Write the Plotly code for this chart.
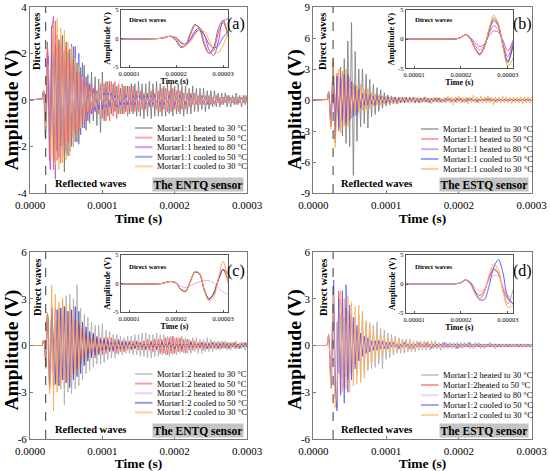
import plotly.graph_objects as go

FONT = "Liberation Serif"

# ---------------- time grid (microseconds) ----------------
t_us = [0, 17, 18, 19, 20, 21, 22, 23, 24, 25, 26, 27, 28, 29, 30,
        32.5, 35, 37.5, 40, 42.5, 45, 47.5, 50, 52.5, 55,
        57.5, 60, 62.5, 65, 67.5, 70, 72.5, 75, 77.5, 80,
        82.5, 85, 87.5, 90, 92.5, 95, 97.5, 100, 102.5, 105,
        107.5, 110, 112.5, 115, 117.5, 120, 122.5, 125, 127.5, 130,
        132.5, 135, 137.5, 140, 142.5, 145, 147.5, 150, 152.5, 155,
        157.5, 160, 162.5, 165, 167.5, 170, 172.5, 175, 177.5, 180,
        182.5, 185, 187.5, 190, 192.5, 195, 197.5, 200, 202.5, 205,
        207.5, 210, 212.5, 215, 217.5, 220, 222.5, 225, 227.5, 230,
        232.5, 235, 237.5, 240, 242.5, 245, 247.5, 250, 252.5, 255,
        257.5, 260, 262.5, 265, 267.5, 270, 272.5, 275, 277.5, 280,
        282.5, 285, 287.5, 290, 292.5, 295, 297.5, 300]

# ---------------- (a) ENTQ sensor, Mortar 1:1 ----------------
a_h30 = [0, 0.05, 0.35, 0.3, -0.4, -1.6, -1.2, 0.9, 2.5, 1.6, -1.2, -2.6, -1.5, 1.8, 3.2,
         -2.6, 2.4, -2.2, 2.6, -2.0, 2.8, -3.1, 2.5, -2.4, 2.2,
         -2.0, 2.3, -1.8, 1.6, -1.9, 1.4, -1.2, 1.5, -1.3, 1.1,
         -1.0, 1.2, -0.9, 1.0, -1.1, 0.9, -1.4, 1.2, -0.9, 0.8,
         -0.7, 0.8, -0.6, 0.7, -0.5, 0.6, -0.6, 0.5, -0.6, 0.6,
         -0.5, 0.6, -0.6, 0.7, -0.6, 0.7, -0.7, 0.8, -0.7, 0.7,
         -0.8, 0.7, -0.7, 0.8, -0.8, 0.7, -0.7, 0.8, -0.7, 0.7,
         -0.7, 0.6, -0.7, 0.7, -0.6, 0.7, -0.7, 0.6, -0.6, 0.7,
         -0.6, 0.6, -0.7, 0.6, -0.6, 0.5, -0.6, 0.6, -0.5, 0.5,
         -0.5, 0.5, -0.4, 0.5, -0.5, 0.4, -0.4, 0.4, -0.3, 0.4,
         -0.3, 0.3, -0.3, 0.3, -0.2, 0.3, -0.3, 0.2, -0.3, 0.2,
         -0.2, 0.3, -0.2, 0.2, -0.3, 0.2, -0.2, 0.2]
a_h50 = [0, 0.05, 0.3, 0.35, -0.2, -1.3, -1.3, 0.5, 2.3, 1.9, -0.7, -2.6, -2.0, 1.0, 2.8,
         -3.0, 3.4, -2.6, 2.4, -2.7, 2.2, -2.0, 2.3, -1.8, 1.6,
         -1.5, 1.7, -1.4, 1.2, -1.3, 1.0, -0.9, 0.8, -0.9, 0.7,
         -0.6, 0.7, -0.6, 0.5, 0.0, -0.6, 0.7, -0.8, 0.7, -0.9,
         0.8, -0.9, 0.8, -0.7, 0.8, -0.8, 0.7, -0.6, 0.7, -0.6,
         0.6, -0.7, 0.6, -0.5, 0.6, -0.5, 0.4, -0.5, 0.4, -0.4,
         0.3, -0.4, 0.3, -0.3, 0.4, -0.3, 0.3, -0.4, 0.4, -0.5,
         0.5, -0.4, 0.5, -0.5, 0.4, -0.5, 0.5, -0.4, 0.4, -0.5,
         0.4, -0.4, 0.3, -0.4, 0.3, -0.3, 0.3, -0.2, 0.3, -0.2,
         0.2, -0.2, 0.1, -0.2, 0.2, -0.1, 0.2, -0.2, 0.1, -0.2,
         0.2, -0.1, 0.1, -0.2, 0.1, -0.1, 0.2, -0.1, 0.1, -0.1,
         0.1, -0.2, 0.1, -0.1, 0.1, -0.1, 0.2, -0.1]
a_h80 = [0, 0.05, 0.3, 0.4, 0.1, -0.8, -1.0, -0.1, 1.3, 1.9, 0.6, -2.0, -3.0, -0.5, 3.0,
         3.6, -3.4, 2.8, -2.5, 2.7, -2.3, 2.0, -2.2, 2.1, -1.8,
         1.9, -1.6, 1.4, -1.5, 1.2, -1.0, 1.1, -0.8, 0.6, -0.5,
         0.4, -0.4, 0.3, -0.4, 0.3, -0.3, 0.3, -0.2, 0.3, -0.2,
         0.2, -0.3, 0.2, -0.2, 0.2, -0.2, 0.2, -0.2, 0.2, -0.1,
         0.2, -0.2, 0.1, -0.2, 0.2, -0.1, 0.2, -0.2, 0.1, -0.1,
         0.1, -0.2, 0.1, -0.1, 0.2, -0.1, 0.1, -0.1, 0.1, -0.1,
         0.1, -0.1, 0.1, -0.1, 0.1, -0.1, 0.1, -0.1, 0.1, -0.1,
         0.1, -0.1, 0.1, -0.1, 0.1, -0.1, 0.1, -0.1, 0.1, -0.1,
         0.1, -0.1, 0.1, -0.1, 0.1, -0.1, 0.1, -0.1, 0.1, -0.1,
         0.1, -0.1, 0.1, -0.1, 0.1, -0.1, 0.1, -0.1, 0.1, -0.1,
         0.1, -0.1, 0.1, -0.1, 0.1, -0.1, 0.1, -0.1]
a_c50 = [0, 0.05, 0.3, 0.4, 0.1, -0.7, -1.0, -0.3, 1.0, 1.5, 0.6, -1.0, -1.7, -1.2, 0.2,
         2.0, -2.7, 2.2, -2.4, 2.3, -2.5, 2.1, -2.3, 2.0, -2.2,
         2.4, -2.0, 2.3, -1.8, 2.0, -1.5, 1.6, -1.2, 1.0, -0.9,
         0.7, -0.6, 0.5, -0.5, 0.4, -0.4, 0.3, -0.4, 0.3, -0.3,
         0.3, -0.2, 0.3, -0.2, 0.2, -0.3, 0.2, -0.2, 0.2, -0.2,
         0.2, -0.2, 0.2, -0.1, 0.2, -0.2, 0.1, -0.2, 0.2, -0.1,
         0.2, -0.1, 0.2, -0.2, 0.1, -0.2, 0.2, -0.1, 0.1, -0.2,
         0.1, -0.2, 0.1, -0.1, 0.2, -0.1, 0.1, -0.2, 0.1, -0.1,
         0.2, -0.1, 0.1, -0.2, 0.1, -0.1, 0.2, -0.1, 0.1, -0.1,
         0.1, -0.1, 0.2, -0.1, 0.1, -0.2, 0.1, -0.1, 0.1, -0.1,
         0.1, -0.1, 0.1, -0.1, 0.1, -0.1, 0.1, -0.1, 0.1, -0.1,
         0.1, -0.1, 0.1, -0.1, 0.1, -0.1, 0.1, -0.1]
a_c30 = [0, 0.05, 0.3, 0.4, 0.2, -0.5, -1.1, -0.6, 0.6, 1.5, 1.3, -0.3, -1.9, -2.5, -1.2,
         3.3, -2.8, 3.5, -3.0, 3.1, -2.7, 3.0, -2.6, 2.5, -2.4,
         2.3, -2.0, 1.8, -1.6, 1.5, -1.2, 1.0, -0.8, 0.6, -0.5,
         0.4, -0.4, 0.3, -0.3, 0.3, -0.2, 0.3, -0.2, 0.2, -0.2,
         0.2, -0.1, 0.2, -0.2, 0.1, -0.2, 0.2, -0.1, 0.2, -0.1,
         0.1, -0.1, 0.2, -0.1, 0.1, -0.1, 0.1, -0.2, 0.1, -0.1,
         0.1, -0.1, 0.1, -0.1, 0.1, -0.1, 0.1, -0.1, 0.1, -0.1,
         0.1, -0.1, 0.1, -0.1, 0.1, -0.1, 0.1, -0.1, 0.1, -0.1,
         0.1, -0.1, 0.1, -0.1, 0.1, -0.1, 0.1, -0.1, 0.1, -0.1,
         0.1, -0.1, 0.1, -0.1, 0.1, -0.1, 0.1, -0.1, 0.1, -0.1,
         0.1, -0.1, 0.1, -0.1, 0.1, -0.1, 0.1, -0.1, 0.1, -0.1,
         0.1, -0.1, 0.1, -0.1, 0.1, -0.1, 0.1, -0.1]

# ---------------- (b) ESTQ sensor, Mortar 1:1 ----------------
b_h30 = [0, 0, 0, 0.05, 0.3, 0.8, 0.05, -1.6, -2.5, -1.3, 1.6, 3.6, 2.4, -1.3, -4.1,
         2.2, -3.0, 3.2, -3.5, 4.0, -4.2, 5.7, -4.5, 7.5, -7.3,
         4.7, -4.0, 3.0, -2.6, 3.0, -2.3, 2.5, -2.7, 2.0, -1.6,
         1.5, -1.4, 1.2, -1.1, 1.0, -0.8, 0.7, -0.6, 0.5, -0.5,
         0.4, -0.4, 0.3, -0.4, 0.3, -0.3, 0.3, -0.3, 0.3, -0.2,
         0.3, -0.2, 0.3, -0.3, 0.2, -0.3, 0.2, -0.2, 0.3, -0.2,
         0.2, -0.3, 0.2, -0.2, 0.2, -0.2, 0.2, -0.2, 0.1, -0.2,
         0.2, -0.1, 0.2, -0.2, 0.1, -0.2, 0.2, -0.1, 0.2, -0.1,
         0.1, -0.2, 0.1, -0.1, 0.2, -0.1, 0.1, -0.2, 0.1, -0.1,
         0.1, -0.1, 0.2, -0.1, 0.1, -0.1, 0.1, -0.2, 0.1, -0.1,
         0.1, -0.1, 0.1, -0.1, 0.1, -0.1, 0.1, -0.1, 0.1, -0.1,
         0.1, -0.1, 0.1, -0.1, 0.1, -0.1, 0.1, -0.1]
b_h50 = [0, 0, 0, 0.05, 0.3, 0.8, 0.15, -1.1, -1.9, -1.0, 1.0, 2.3, 1.6, -0.9, -3.0,
         2.6, -2.8, 2.4, -2.2, 2.0, -2.3, 1.8, -1.5, 1.3, -1.2,
         1.0, -0.9, 0.8, -0.7, 0.6, -0.5, 0.5, -0.4, 0.4, -0.3,
         0.3, -0.3, 0.3, -0.2, 0.3, -0.2, 0.2, -0.2, 0.2, -0.2,
         0.2, -0.1, 0.2, -0.2, 0.1, -0.2, 0.2, -0.1, 0.2, -0.1,
         0.1, -0.2, 0.1, -0.1, 0.2, -0.1, 0.1, -0.1, 0.1, -0.1,
         0.1, -0.1, 0.1, -0.1, 0.1, -0.1, 0.1, -0.1, 0.1, -0.1,
         0.1, -0.1, 0.1, -0.1, 0.1, -0.1, 0.1, -0.1, 0.1, -0.1,
         0.1, -0.1, 0.1, -0.1, 0.1, -0.1, 0.1, -0.1, 0.1, -0.1,
         0.1, -0.1, 0.1, -0.1, 0.1, -0.1, 0.1, -0.1, 0.1, -0.1,
         0.1, -0.1, 0.1, -0.1, 0.1, -0.1, 0.1, -0.1, 0.1, -0.1,
         0.1, -0.1, 0.1, -0.1, 0.1, -0.1, 0.1, -0.1]
b_h80 = [0, 0, 0, 0.05, 0.3, 0.8, 0.3, -0.6, -1.3, -0.8, 0.6, 1.4, 1.2, -0.3, -2.0,
         1.8, -2.0, 1.9, -1.6, 1.5, -1.8, 1.3, -1.0, 0.9, -0.8,
         0.7, -0.6, 0.5, -0.4, 0.4, -0.3, 0.3, -0.3, 0.2, -0.2,
         0.2, -0.2, 0.2, -0.1, 0.2, -0.1, 0.1, -0.1, 0.1, -0.1,
         0.1, -0.1, 0.1, -0.1, 0.1, -0.1, 0.1, -0.1, 0.1, -0.1,
         0.1, -0.1, 0.1, -0.1, 0.1, -0.1, 0.1, -0.1, 0.1, -0.1,
         0.1, -0.1, 0.1, -0.1, 0.1, -0.1, 0.1, -0.1, 0.1, -0.1,
         0.1, -0.1, 0.1, -0.1, 0.1, -0.1, 0.1, -0.1, 0.1, -0.1,
         0.1, -0.1, 0.1, -0.1, 0.1, -0.1, 0.1, -0.1, 0.1, -0.1,
         0.1, -0.1, 0.1, -0.1, 0.1, -0.1, 0.1, -0.1, 0.1, -0.1,
         0.1, -0.1, 0.1, -0.1, 0.1, -0.1, 0.1, -0.1, 0.1, -0.1,
         0.1, -0.1, 0.1, -0.1, 0.1, -0.1, 0.1, -0.1]
b_c50 = [0, 0, 0, 0.05, 0.3, 0.8, 0.05, -1.6, -2.6, -1.4, 1.4, 3.2, 2.2, -1.2, -3.8,
         2.3, -2.6, 2.2, -2.0, 2.5, -2.2, 2.5, -2.0, 1.8, -1.6,
         1.4, -1.5, 1.0, -0.8, 0.6, -0.5, 0.6, -0.5, 0.5, -0.4,
         0.4, -0.5, 0.4, -0.3, 0.4, -0.3, 0.3, -0.3, 0.3, -0.2,
         0.2, -0.2, 0.3, -0.2, 0.2, -0.2, 0.2, -0.2, 0.2, -0.2,
         0.2, -0.1, 0.2, -0.2, 0.1, -0.2, 0.2, -0.1, 0.2, -0.2,
         0.1, -0.2, 0.1, -0.1, 0.2, -0.1, 0.2, -0.2, 0.1, -0.1,
         0.2, -0.1, 0.1, -0.2, 0.1, -0.1, 0.2, -0.1, 0.1, -0.2,
         0.1, -0.1, 0.2, -0.1, 0.1, -0.1, 0.1, -0.2, 0.1, -0.1,
         0.1, -0.1, 0.1, -0.1, 0.2, -0.1, 0.1, -0.1, 0.1, -0.1,
         0.1, -0.1, 0.1, -0.1, 0.1, -0.1, 0.1, -0.1, 0.1, -0.1,
         0.1, -0.1, 0.1, -0.1, 0.1, -0.1, 0.1, -0.1]
b_c30 = [0, 0, 0, 0.05, 0.3, 0.8, 0.0, -1.7, -2.8, -1.5, 1.8, 4.1, 2.6, -1.5, -4.6,
         -1.0, 3.0, -3.2, 2.8, -2.5, 3.0, -2.6, 2.2, -1.8, 1.6,
         -1.5, 1.4, -1.2, 1.5, -1.0, 1.0, -0.9, 1.1, -0.8, 0.7,
         -0.6, 0.6, -0.5, 0.5, -0.5, 0.4, -0.4, 0.4, -0.3, 0.3,
         -0.3, 0.3, -0.3, 0.2, -0.3, 0.3, -0.2, 0.3, -0.3, 0.2,
         -0.3, 0.2, -0.3, 0.3, -0.2, 0.3, -0.3, 0.2, -0.2, 0.3,
         -0.3, 0.2, -0.4, 0.3, -0.2, 0.3, -0.3, 0.2, -0.3, 0.3,
         -0.3, 0.4, -0.3, 0.3, -0.5, 0.3, -0.3, 0.4, -0.3, 0.3,
         -0.3, 0.3, -0.4, 0.3, -0.3, 0.5, -0.3, 0.3, -0.3, 0.4,
         -0.3, 0.3, -0.3, 0.4, -0.3, 0.3, -0.5, 0.3, -0.3, 0.3,
         -0.3, 0.4, -0.3, 0.3, -0.3, 0.3, -0.4, 0.3, -0.3, 0.3,
         -0.3, 0.3, -0.4, 0.3, -0.3, 0.3, -0.3, 0.3]

# ---------------- (c) ENTQ sensor, Mortar 1:2 ----------------
c_h30 = [0, 0, 0.25, 0.35, 0.1, -1.1, -1.3, 0.4, 2.1, 1.6, -1.3, -2.8, -1.6, 0.8, 2.4,
         -2.0, 1.8, -2.2, 2.5, -2.8, 3.0, -3.8, 3.2, -3.0, 3.3,
         -3.1, 3.0, -2.8, 3.9, -2.6, 2.4, -2.2, 2.0, -1.8, 1.8,
         -1.6, 1.5, -1.4, 1.3, -1.2, 1.3, -1.2, 1.4, -1.1, 1.0,
         -0.9, 0.9, -0.8, 0.7, -0.8, 0.7, -0.6, 0.6, -0.6, 0.5,
         -0.5, 0.6, -0.5, 0.6, -0.6, 0.7, -0.6, 0.7, -0.7, 0.8,
         -0.7, 0.8, -0.8, 0.7, -0.8, 0.7, -0.7, 0.8, -0.7, 0.7,
         -0.6, 0.7, -0.6, 0.6, -0.7, 0.6, -0.6, 0.5, -0.6, 0.5,
         -0.5, 0.6, -0.5, 0.5, -0.5, 0.4, -0.5, 0.5, -0.4, 0.5,
         -0.5, 0.4, -0.5, 0.4, -0.4, 0.5, -0.4, 0.4, -0.4, 0.3,
         -0.3, 0.3, -0.3, 0.3, -0.2, 0.3, -0.3, 0.2, -0.3, 0.2,
         -0.2, 0.3, -0.2, 0.2, -0.2, 0.2, -0.3, 0.2]
c_h50 = [0, 0, 0.25, 0.35, 0.05, -1.1, -1.4, 0.3, 2.1, 1.7, -1.2, -2.8, -1.7, 0.7, 2.5,
         -2.6, 2.4, -2.5, 2.2, -2.4, 2.5, -2.2, 2.3, -2.0, 2.1,
         0.0, -1.8, 1.6, -1.5, 1.4, -1.2, 1.1, -1.0, 0.9, -0.8,
         0.8, -0.7, 0.7, -0.8, 0.6, -0.6, 0.5, -0.6, 0.5, -0.5,
         0.5, -0.4, 0.5, -0.4, 0.4, -0.5, 0.4, -0.4, 0.3, -0.4,
         0.3, -0.3, 0.3, -0.3, 0.3, -0.2, 0.3, -0.3, 0.2, -0.3,
         0.3, -0.3, 0.4, -0.3, 0.3, -0.4, 0.4, -0.3, 0.4, -0.5,
         0.4, -0.5, 0.5, -0.6, 0.5, -0.5, 0.6, -0.5, 0.5, -0.4,
         0.5, -0.4, 0.4, -0.5, 0.4, -0.3, 0.3, -0.3, 0.3, -0.2,
         0.2, -0.2, 0.2, -0.3, 0.2, -0.2, 0.2, -0.2, 0.2, -0.2,
         0.2, -0.1, 0.2, -0.2, 0.1, -0.2, 0.2, -0.1, 0.2, -0.1,
         0.1, -0.2, 0.1, -0.1, 0.2, -0.1, 0.1, -0.1]
c_h80 = [0, 0, 0.25, 0.35, 0.2, -0.5, -0.7, -0.4, 0.0, 0.3, 0.5, 0.5, 0.1, -0.8, -1.5,
         -2.0, 2.2, -2.5, 2.3, -2.4, 2.6, -2.2, 2.4, -2.3, 2.0,
         -1.8, 1.6, -1.4, 1.2, -1.0, 0.9, -0.8, 0.7, -0.5, 0.4,
         -0.4, 0.3, -0.3, 0.3, -0.3, 0.2, -0.2, 0.2, -0.2, 0.2,
         -0.1, 0.2, -0.1, 0.1, -0.2, 0.1, -0.1, 0.1, -0.1, 0.1,
         -0.1, 0.1, -0.1, 0.1, -0.1, 0.1, -0.1, 0.1, -0.1, 0.1,
         -0.1, 0.1, -0.1, 0.1, -0.1, 0.1, -0.1, 0.1, -0.1, 0.1,
         -0.1, 0.1, -0.1, 0.1, -0.1, 0.1, -0.1, 0.1, -0.1, 0.1,
         -0.1, 0.1, -0.1, 0.1, -0.1, 0.1, -0.1, 0.1, -0.1, 0.1,
         -0.1, 0.1, -0.1, 0.1, -0.1, 0.1, -0.1, 0.1, -0.1, 0.1,
         -0.1, 0.1, -0.1, 0.1, -0.1, 0.1, -0.1, 0.1, -0.1, 0.1,
         -0.1, 0.1, -0.1, 0.1, -0.1, 0.1, -0.1, 0.1]
c_c50 = [0, 0, 0.25, 0.35, 0.1, -1.0, -1.4, 0.3, 2.0, 1.7, -1.1, -2.7, -1.8, 0.6, 2.4,
         0.3, -2.5, 2.3, -2.6, 2.4, -2.2, 2.5, -2.4, 2.2, -2.7,
         2.3, -2.2, 2.5, -2.0, 2.2, -1.8, 1.5, -1.3, 1.2, -1.0,
         0.9, -0.8, 0.8, -0.6, 0.5, -0.5, 0.4, -0.3, 0.4, -0.3,
         0.3, -0.3, 0.2, -0.3, 0.2, -0.2, 0.3, -0.2, 0.2, -0.2,
         0.2, -0.1, 0.2, -0.2, 0.1, -0.2, 0.2, -0.1, 0.2, -0.1,
         0.1, -0.2, 0.1, -0.1, 0.2, -0.1, 0.1, -0.2, 0.1, -0.1,
         0.2, -0.1, 0.1, -0.1, 0.2, -0.1, 0.1, -0.2, 0.1, -0.1,
         0.1, -0.2, 0.1, -0.1, 0.1, -0.1, 0.2, -0.1, 0.1, -0.1,
         0.1, -0.1, 0.2, -0.1, 0.1, -0.2, 0.1, -0.1, 0.2, -0.1,
         0.1, -0.2, 0.1, -0.1, 0.2, -0.1, 0.1, -0.2, 0.1, -0.1,
         0.2, -0.1, 0.1, -0.2, 0.1, -0.1, 0.2, -0.1]
c_c30 = [0, 0, 0.25, 0.35, 0.1, -1.1, -1.5, 0.3, 2.1, 1.8, -1.2, -3.1, -2.4, 0.9, 3.9,
         -4.2, 3.3, -3.0, 2.8, -2.5, 3.0, -2.7, 2.5, -2.3, 2.6,
         -2.2, 2.0, -1.8, 1.6, -1.5, 1.2, -1.0, 0.8, -0.7, 0.6,
         -0.5, 0.4, -0.4, 0.4, -0.3, 0.3, -0.3, 0.3, -0.2, 0.2,
         -0.2, 0.1, -0.2, 0.2, -0.1, 0.2, -0.2, 0.1, -0.2, 0.1,
         -0.1, 0.1, -0.2, 0.1, -0.1, 0.1, -0.1, 0.2, -0.1, 0.1,
         -0.1, 0.1, -0.1, 0.1, -0.1, 0.1, -0.1, 0.1, -0.1, 0.1,
         -0.1, 0.1, -0.1, 0.1, -0.1, 0.1, -0.1, 0.1, -0.1, 0.1,
         -0.1, 0.1, -0.1, 0.1, -0.1, 0.1, -0.1, 0.1, -0.1, 0.1,
         -0.1, 0.1, -0.1, 0.1, -0.1, 0.1, -0.1, 0.1, -0.1, 0.1,
         -0.1, 0.1, -0.1, 0.1, -0.1, 0.1, -0.1, 0.1, -0.1, 0.1,
         -0.1, 0.1, -0.1, 0.1, -0.1, 0.1, -0.1, 0.1]

# ---------------- (d) ESTQ sensor, Mortar 1:2 ----------------
d_h30 = [0, 0, 0, 0.05, 0.3, 0.7, 0.05, -1.6, -2.5, -1.3, 1.2, 2.8, 1.9, -1.2, -3.4,
         1.5, -1.8, 2.0, -2.1, 1.8, -2.0, 2.2, -1.9, 2.0, -2.0,
         1.8, -1.9, 2.0, -2.2, 2.2, -1.7, 1.5, -1.6, 1.4, -1.5,
         1.3, -1.4, 1.5, -1.2, 1.1, -1.5, 1.0, -0.9, 0.8, -0.8,
         0.7, -0.6, 0.6, -0.5, 0.5, -0.5, 0.4, -0.5, 0.4, -0.4,
         0.4, -0.4, 0.3, -0.4, 0.3, -0.3, 0.3, -0.3, 0.3, -0.3,
         0.3, -0.3, 0.3, -0.2, 0.3, -0.2, 0.2, -0.3, 0.2, -0.2,
         0.2, -0.2, 0.2, -0.2, 0.2, -0.2, 0.2, -0.2, 0.2, -0.2,
         0.2, -0.1, 0.2, -0.2, 0.1, -0.2, 0.2, -0.1, 0.2, -0.2,
         0.1, -0.2, 0.1, -0.1, 0.2, -0.1, 0.1, -0.2, 0.1, -0.1,
         0.1, -0.1, 0.1, -0.1, 0.1, -0.1, 0.1, -0.1, 0.1, -0.1,
         0.1, -0.1, 0.1, -0.1, 0.1, -0.1, 0.1, -0.1]
d_h50 = [0, 0, 0, 0.05, 0.3, 0.7, 0.1, -1.2, -2.0, -1.1, 1.1, 2.5, 1.7, -0.9, -2.6,
         -4.0, 3.5, -3.0, 3.0, -2.7, 2.4, -2.2, 2.0, -1.8, 1.5,
         -1.2, 1.0, -0.9, 0.8, -0.6, 0.5, -0.5, 0.4, -0.4, 0.3,
         -0.3, 0.3, -0.2, 0.3, -0.2, 0.2, -0.2, 0.2, -0.2, 0.2,
         -0.1, 0.2, -0.1, 0.1, -0.2, 0.1, -0.1, 0.2, -0.1, 0.1,
         -0.1, 0.1, -0.2, 0.1, -0.1, 0.1, -0.1, 0.1, -0.1, 0.2,
         -0.1, 0.1, -0.1, 0.1, -0.1, 0.1, -0.1, 0.1, -0.1, 0.1,
         -0.1, 0.1, -0.1, 0.1, -0.1, 0.1, -0.1, 0.1, -0.1, 0.1,
         -0.1, 0.1, -0.1, 0.1, -0.1, 0.1, -0.1, 0.1, -0.1, 0.1,
         -0.1, 0.1, -0.1, 0.1, -0.1, 0.1, -0.1, 0.1, -0.1, 0.1,
         -0.1, 0.1, -0.1, 0.1, -0.1, 0.1, -0.1, 0.1, -0.1, 0.1,
         -0.1, 0.1, -0.1, 0.1, -0.1, 0.1, -0.1, 0.1]
d_h80 = [0, 0, 0, 0.05, 0.3, 0.7, 0.3, -0.6, -1.3, -0.8, 0.6, 1.5, 1.3, -0.4, -2.0,
         -2.5, 2.3, -2.4, 2.0, -1.8, 1.5, -1.2, 1.0, -0.8, 0.7,
         -0.5, 0.4, -0.4, 0.3, -0.3, 0.3, -0.2, 0.2, -0.2, 0.2,
         -0.1, 0.1, -0.1, 0.1, -0.1, 0.1, -0.1, 0.1, -0.1, 0.1,
         -0.1, 0.1, -0.1, 0.1, -0.1, 0.1, -0.1, 0.1, -0.1, 0.1,
         -0.1, 0.1, -0.1, 0.1, -0.1, 0.1, -0.1, 0.1, -0.1, 0.1,
         -0.1, 0.1, -0.1, 0.1, -0.1, 0.1, -0.1, 0.1, -0.1, 0.1,
         -0.1, 0.1, -0.1, 0.1, -0.1, 0.1, -0.1, 0.1, -0.1, 0.1,
         -0.1, 0.1, -0.1, 0.1, -0.1, 0.1, -0.1, 0.1, -0.1, 0.1,
         -0.1, 0.1, -0.1, 0.1, -0.1, 0.1, -0.1, 0.1, -0.1, 0.1,
         -0.1, 0.1, -0.1, 0.1, -0.1, 0.1, -0.1, 0.1, -0.1, 0.1,
         -0.1, 0.1, -0.1, 0.1, -0.1, 0.1, -0.1, 0.1]
d_c50 = [0, 0, 0, 0.05, 0.2, 0.7, 0.3, -1.3, -2.7, -2.7, -0.3, 2.9, 4.2, 1.8, -2.2,
         -4.2, 3.0, -3.2, 3.5, -3.7, 3.9, -3.0, 2.6, -2.2, 1.8,
         -1.5, 1.3, -1.0, 0.8, -0.7, 0.6, -0.5, 0.5, -0.4, 0.3,
         -0.3, 0.3, -0.3, 0.3, -0.2, 0.3, -0.2, 0.2, -0.2, 0.2,
         -0.1, 0.2, -0.1, 0.1, -0.2, 0.1, -0.1, 0.2, -0.1, 0.1,
         -0.2, 0.1, -0.1, 0.1, -0.1, 0.2, -0.1, 0.1, -0.1, 0.1,
         -0.1, 0.1, -0.2, 0.1, -0.1, 0.1, -0.1, 0.1, -0.1, 0.2,
         -0.1, 0.1, -0.1, 0.1, -0.1, 0.1, -0.2, 0.1, -0.1, 0.1,
         -0.1, 0.1, -0.1, 0.2, -0.1, 0.1, -0.1, 0.1, -0.1, 0.1,
         -0.1, 0.1, -0.1, 0.1, -0.1, 0.1, -0.1, 0.1, -0.1, 0.1,
         -0.1, 0.1, -0.1, 0.1, -0.1, 0.1, -0.1, 0.1, -0.1, 0.1,
         -0.1, 0.1, -0.1, 0.1, -0.1, 0.1, -0.1, 0.1]
d_c30 = [0, 0, 0, 0.05, 0.3, 0.7, 0.0, -1.7, -2.8, -1.5, 1.6, 3.5, 2.4, -1.4, -4.0,
         -3.0, -0.5, 3.5, -3.0, 3.0, -2.8, 3.2, -3.0, 2.8, -2.6,
         2.5, -2.5, 2.6, -2.4, 2.0, -2.1, 1.6, -1.5, 1.5, -1.2,
         1.1, -0.9, 0.8, -0.8, 0.7, -0.6, 0.6, -0.5, 0.5, -0.5,
         0.5, -0.4, 0.5, -0.4, 0.4, -0.3, 0.4, -0.3, 0.3, -0.3,
         0.3, -0.3, 0.3, -0.3, 0.2, -0.3, 0.2, -0.2, 0.3, -0.2,
         0.2, -0.2, 0.2, -0.1, 0.2, -0.2, 0.1, -0.2, 0.1, -0.1,
         0.1, -0.1, 0.1, -0.1, 0.1, -0.1, 0.1, -0.1, 0.1, -0.1,
         0.1, -0.1, 0.1, -0.1, 0.1, -0.1, 0.1, -0.1, 0.1, -0.1,
         0.1, -0.1, 0.1, -0.1, 0.1, -0.1, 0.1, -0.1, 0.1, -0.1,
         0.1, -0.1, 0.1, -0.1, 0.1, -0.1, 0.1, -0.1, 0.1, -0.1,
         0.1, -0.1, 0.1, -0.1, 0.1, -0.1, 0.1, -0.1]

# ---------------- labels / ticks ----------------
labels_11 = ["Mortar1:1 heated to 30 °C", "Mortar1:1 heated to 50 °C", "Mortar1:1 heated to 80 °C",
             "Mortar1:1 cooled to 50 °C", "Mortar1:1 cooled to 30 °C"]
labels_12c = ["Mortar1:2 heated to 30 °C", "Mortar1:2 heated to 50 °C", "Mortar1:2 heated to 80 °C",
              "Mortar1:2 cooled to 50 °C", "Mortar1:2 cooled to 30 °C"]
labels_12d = ["Mortar1:2 heated to 30 °C", "Mortar1:2heated to 50 °C", "Mortar1:2 heated to 80 °C",
              "Mortar1:2 cooled to 50 °C", "Mortar1:2 cooled to 30 °C"]
panel_tags = ["(a)", "(b)", "(c)", "(d)"]
sensor_names = ["The ENTQ sensor", "The ESTQ sensor", "The ENTQ sensor", "The ESTQ sensor"]
y_tick_vals = [[-4, -2, 0, 2, 4], [-9, -6, -3, 0, 3, 6, 9], [-6, -3, 0, 3, 6], [-6, -3, 0, 3, 6]]
y_tick_text = [["-4", "-2", "0", "2", "4"], ["-9", "-6", "-3", "0", "3", "6", "9"],
               ["-6", "-3", "0", "3", "6"], ["-6", "-3", "0", "3", "6"]]
y_ranges = [[-4, 4], [-9, 9], [-6, 6], [-6, 6]]
x_tick_vals = [0, 0.0001, 0.0002, 0.0003]
x_tick_text = ["0.0000", "0.0001", "0.0002", "0.0003"]
inset_x_vals = [0.00001, 0.00002, 0.00003]
inset_x_text = ["0.00001", "0.00002", "0.00003"]
inset_y_vals = [-5, 0, 5]
inset_y_text = ["-5", "0", "5"]
reflection_t = [0.0000217, 0.0000272, 0.0000217, 0.0000272]   # dashed marker positions (s)

colors_a = ["#737373", "#ff5c5c", "#b44ce0", "#5a5aff", "#ffb04a"]
colors_b = ["#787878", "#ff6262", "#c05ee6", "#5656ff", "#ffa535"]
colors_c = ["#a9a9a9", "#ff4c4c", "#e2aaf8", "#4a4ab8", "#ffa74e"]
colors_d = ["#a9a9a9", "#ff4a4a", "#e6b2f5", "#5c5cff", "#ffb060"]

t_s = [v * 1e-6 for v in t_us]

panels = [
    ([a_h30, a_h50, a_h80, a_c50, a_c30], labels_11, colors_a),
    ([b_h30, b_h50, b_h80, b_c50, b_c30], labels_11, colors_b),
    ([c_h30, c_h50, c_h80, c_c50, c_c30], labels_12c, colors_c),
    ([d_h30, d_h50, d_h80, d_c50, d_c30], labels_12d, colors_d),
]

W, H = 550, 471
def px(x):
    return x / W
def py(y):
    return 1 - y / H

main_xdom = [[30, 247], [313.3, 531.7], [30, 247], [313.3, 531.7]]
main_ydom = [[7, 193], [7, 193], [252, 439], [252, 439]]
inset_xdom = [[120.7, 228.3], [405.7, 513], [120.7, 228.3], [405.7, 513]]
inset_ydom = [[10, 67], [10, 68.3], [255, 312], [255, 313]]
ytitle_pos = [[11.5, 110], [295, 110], [11.5, 350], [295, 350]]


def ref(letter, n):
    return letter if n == 1 else f"{letter}{n}"


def axname(letter, n):
    return f"{letter}axis" if n == 1 else f"{letter}axis{n}"


def note(text, x, y, size, bold=False, **kw):
    d = dict(text=("<b>" + text + "</b>") if bold else text, x=px(x), y=py(y),
             xref="paper", yref="paper", xanchor="center", yanchor="middle",
             showarrow=False, font=dict(family=FONT, size=size, color="black"))
    d.update(kw)
    return d


fig = go.Figure()
layout = dict(width=W, height=H, autosize=False, margin=dict(l=0, r=0, t=0, b=0, pad=0),
              paper_bgcolor="white", plot_bgcolor="white", showlegend=False,
              font=dict(family=FONT, color="black"))
annotations = []
shapes = []

for i, (ys, labels, colors) in enumerate(panels):
    n = i + 1
    m = i + 5
    for y, lab, col in zip(ys, labels, colors):
        fig.add_trace(go.Scatter(x=t_s, y=y, mode="lines", name=lab,
                                 line=dict(color=col, width=0.8),
                                 xaxis=ref("x", n), yaxis=ref("y", n), showlegend=False))
    for y, lab, col in zip(ys, labels, colors):
        fig.add_trace(go.Scatter(x=t_s, y=y, mode="lines", name=lab,
                                 line=dict(color=col, width=1, shape="spline", smoothing=0.8),
                                 xaxis=ref("x", m), yaxis=ref("y", m), showlegend=False))

    xd = [px(main_xdom[i][0]), px(main_xdom[i][1])]
    yd = [py(main_ydom[i][1]), py(main_ydom[i][0])]
    layout[axname("x", n)] = dict(
        domain=xd, anchor=ref("y", n), range=[0, 0.0003], tickmode="array", automargin=False,
        tickvals=x_tick_vals, ticktext=x_tick_text, showline=True, mirror=True,
        linecolor="#7a7a7a", linewidth=1, ticks="inside", ticklen=3, tickcolor="#7a7a7a",
        showgrid=False, zeroline=False, ticklabelstandoff=2,
        tickfont=dict(family=FONT, size=11, color="black"),
        title=dict(text="<b>Time (s)</b>", font=dict(family=FONT, size=13.5, color="black"), standoff=2))
    layout[axname("y", n)] = dict(
        domain=yd, anchor=ref("x", n), range=y_ranges[i], tickmode="array", automargin=False,
        tickvals=y_tick_vals[i], ticktext=y_tick_text[i], showline=True, mirror=True,
        linecolor="#7a7a7a", linewidth=1, ticks="inside", ticklen=3, tickcolor="#7a7a7a",
        showgrid=False, zeroline=False,
        tickfont=dict(family=FONT, size=11, color="black"))

    ixd = [px(inset_xdom[i][0]), px(inset_xdom[i][1])]
    iyd = [py(inset_ydom[i][1]), py(inset_ydom[i][0])]
    layout[axname("x", m)] = dict(
        domain=ixd, anchor=ref("y", m), range=[0.0000082, 0.0000311], tickmode="array", automargin=False,
        tickvals=inset_x_vals, ticktext=inset_x_text, showline=True, mirror=True,
        linecolor="#555555", linewidth=1, ticks="inside", ticklen=2, tickcolor="#555555",
        showgrid=False, zeroline=False,
        tickfont=dict(family=FONT, size=6.5, color="black"),
        title=dict(text="<b>Time (s)</b>", font=dict(family=FONT, size=8, color="black"), standoff=1))
    layout[axname("y", m)] = dict(
        domain=iyd, anchor=ref("x", m), range=[-5, 5], tickmode="array", automargin=False,
        tickvals=inset_y_vals, ticktext=inset_y_text, showline=True, mirror=True,
        linecolor="#555555", linewidth=1, ticks="inside", ticklen=2, tickcolor="#555555",
        showgrid=False, zeroline=False,
        tickfont=dict(family=FONT, size=6.5, color="black"),
        title=dict(text="<b>Amplitude (V)</b>", font=dict(family=FONT, size=8.5, color="black"), standoff=1))

    shapes.append(dict(type="line", xref=ref("x", n), yref=f"{ref('y', n)} domain",
                       x0=reflection_t[i], x1=reflection_t[i], y0=0, y1=1,
                       line=dict(color="#3a3a3a", width=1, dash="dash")))

    dx = 0 if i % 2 == 0 else 286
    dy = 0 if i < 2 else 246
    annotations.append(note("Amplitude (V)", ytitle_pos[i][0], ytitle_pos[i][1], 19.5, bold=True, textangle=-90))
    annotations.append(note("Direct waves", 37 + dx, 42 + dy, 10.5, bold=True, textangle=-90))
    annotations.append(note("Reflected waves", 90 + dx, 183 + dy, 10.5, bold=True))
    annotations.append(note(sensor_names[i], 197.5 + dx, 184 + dy, 11.5, bold=True,
                            bgcolor="#c4c4c4", borderpad=0.5))
    annotations.append(note(panel_tags[i], 236 + dx, 24.5 + dy, 16))
    annotations.append(note("Direct waves", 127 + dx, 20 + dy, 6.8, bold=True, xanchor="left"))
    rows = [128, 137.6, 147.2, 156.8, 166.4] if i % 2 == 0 else [129, 139, 149.2, 159, 169]
    lx0 = 135 + dx
    for k, (lab, col) in enumerate(zip(labels, colors)):
        yy = rows[k] + dy
        shapes.append(dict(type="line", xref="paper", yref="paper", x0=px(lx0), x1=px(lx0 + 17.5),
                           y0=py(yy), y1=py(yy), line=dict(color=col, width=2), opacity=0.55))
        annotations.append(note(lab, lx0 + 20, yy, 8.5, xanchor="left"))

layout["annotations"] = annotations
layout["shapes"] = shapes
fig.update_layout(**layout)
fig.write_html("out.html", config={"displayModeBar": False},
               post_script="document.body.style.margin='0px';document.body.style.overflow='hidden';")
